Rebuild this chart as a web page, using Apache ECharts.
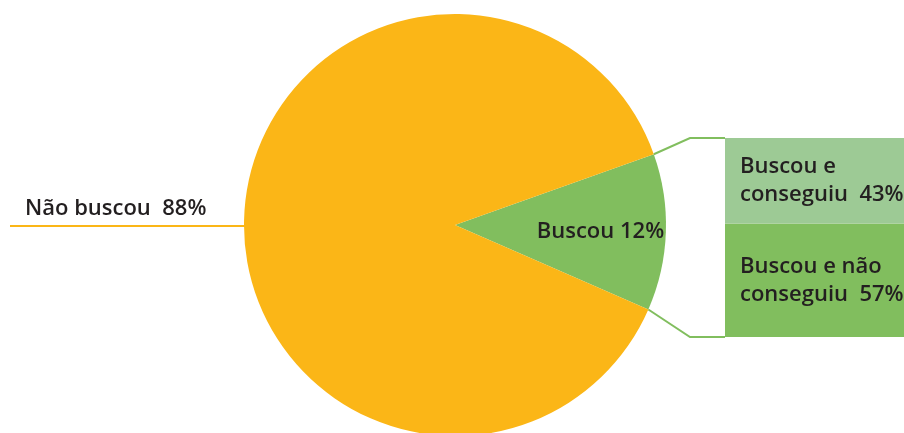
<!DOCTYPE html>
<html><head><meta charset="utf-8">
<script src="https://cdn.jsdelivr.net/npm/echarts@6/dist/echarts.min.js"></script>
<style>html,body{margin:0;padding:0;background:#fff}#c{width:904px;height:433px}</style>
</head><body><div id="c"></div>
<script>
// Pie: who searched vs. who did not
const pieNames = ['Buscou', 'Não buscou'];
const pieValues = [12, 88];
// Breakdown of the "Buscou" slice
const splitNames = ['Buscou e\nconseguiu', 'Buscou e não\nconseguiu'];
const splitValues = [43, 57];

const ORANGE = '#FBB617', GREEN = '#81BE5E', LIGHT = '#9DCA95', INK = '#231F20';
const FONT = '"Open Sans", "Noto Sans", sans-serif';
const FS = 22, FW = 600;

// pie geometry
const CX = 455, CY = 225, R = 211;
const total = pieValues.reduce((a, b) => a + b, 0);
const span = pieValues[0] / total * 360;
const startAngle = span / 2 - 2;
const endAngle = startAngle - span;
const rad = d => d * Math.PI / 180;
const edge = a => [CX + R * Math.cos(rad(a)), CY - R * Math.sin(rad(a))];

// breakdown bar geometry
const BAR_LEFT = 725, BAR_TOP = 138, BAR_BOTTOM = 337, ELBOW = 690, H = 433;

const chart = echarts.init(document.getElementById('c'), null, { renderer: 'canvas' });

const barLabel = {
  show: true, position: 'insideLeft', distance: 15,
  formatter: p => p.seriesName + '  ' + p.value + '%',
  color: INK, fontFamily: FONT, fontSize: FS, fontWeight: FW, lineHeight: 28
};

chart.setOption({
  animation: false,
  backgroundColor: '#fff',
  grid: { left: BAR_LEFT, top: BAR_TOP, bottom: H - BAR_BOTTOM, width: 230 },
  xAxis: { type: 'category', data: [''], show: false },
  yAxis: { type: 'value', min: 0, max: 100, show: false },
  series: [
    {
      type: 'pie',
      center: [CX, CY],
      radius: R,
      startAngle: startAngle,
      clockwise: true,
      silent: true,
      labelLine: { show: false },
      labelLayout: p => (p.dataIndex === 0 ? { dx: 37, dy: 3 } : {}),
      data: [
        {
          name: pieNames[0], value: pieValues[0],
          itemStyle: { color: GREEN },
          label: {
            show: true, position: 'inside',
            formatter: '{b} {c}%',
            color: INK, fontFamily: FONT, fontSize: FS, fontWeight: FW
          }
        },
        {
          name: pieNames[1], value: pieValues[1],
          itemStyle: { color: ORANGE },
          label: { show: false }
        }
      ]
    },
    // stacked bottom-up: "não conseguiu" below, "conseguiu" on top
    {
      type: 'bar', name: splitNames[1], stack: 'busca', barWidth: '100%',
      itemStyle: { color: GREEN }, silent: true,
      data: [splitValues[1]],
      label: barLabel
    },
    {
      type: 'bar', name: splitNames[0], stack: 'busca', barWidth: '100%',
      itemStyle: { color: LIGHT }, silent: true,
      data: [splitValues[0]],
      label: barLabel
    }
  ],
  graphic: [
    // leader line and label for the large slice
    {
      type: 'polyline', silent: true,
      shape: { points: [[10, CY + 1], [CX - R + 2, CY + 1]] },
      style: { stroke: ORANGE, lineWidth: 2, fill: null }
    },
    {
      type: 'text', silent: true, x: 25, y: CY - 16,
      style: {
        text: pieNames[1] + '  ' + pieValues[1] + '%',
        fill: INK, font: FW + ' ' + FS + 'px ' + FONT,
        textVerticalAlign: 'middle'
      }
    },
    // connectors from the small slice to the breakdown bar
    {
      type: 'polyline', silent: true,
      shape: { points: [edge(startAngle), [ELBOW, BAR_TOP], [BAR_LEFT, BAR_TOP]] },
      style: { stroke: GREEN, lineWidth: 2, fill: null }
    },
    {
      type: 'polyline', silent: true,
      shape: { points: [edge(endAngle), [ELBOW, BAR_BOTTOM], [BAR_LEFT, BAR_BOTTOM]] },
      style: { stroke: GREEN, lineWidth: 2, fill: null }
    }
  ]
});
</script>
</body></html>
